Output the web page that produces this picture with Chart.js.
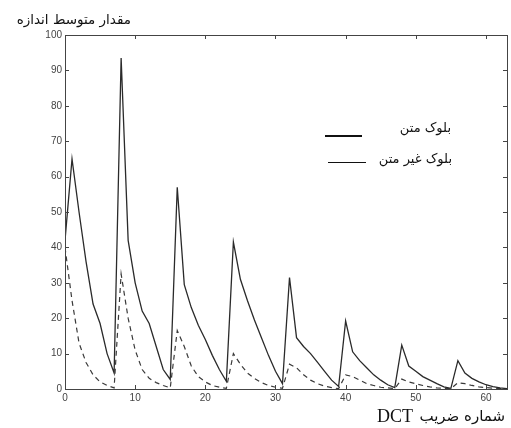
<!DOCTYPE html>
<html>
<head>
<meta charset="utf-8">
<script src="https://cdn.jsdelivr.net/npm/chart.js@4.4.0/dist/chart.umd.min.js"></script>
<style>
  html, body { margin: 0; padding: 0; background: #fff; }
  #wrap { width: 511px; height: 428px; position: relative; }
</style>
</head>
<body>
<div id="wrap"><canvas id="chart" width="511" height="428"></canvas></div>
<script>
// mean magnitude per DCT coefficient index (0..63)
var textBlock = [
    42, 65, 50, 36, 24, 18.5, 10, 4.5,
    93.5, 42, 30, 22, 18.5, 12, 5.5, 2.7,
    57, 29.5, 23, 18, 14, 9.5, 5.5, 2.2,
    41.5, 31, 25, 19.5, 14.5, 9.5, 5, 1.5,
    31.5, 14.5, 12, 10, 7.5, 5, 2.5, 0.7,
    19.2, 10.5, 8, 6, 4, 2.5, 1.2, 0.4,
    12.4, 6.5, 5, 3.5, 2.5, 1.5, 0.6, 0.2,
    8, 4.5, 3, 2, 1.2, 0.7, 0.3, 0.1
];
var nonTextBlock = [
    40, 25, 13, 7.5, 4, 2, 1, 0.3,
    32.5, 20, 11, 5.5, 3, 1.8, 1, 0.3,
    16.5, 12, 6.5, 3.5, 2, 1, 0.5, 0.2,
    10, 7, 4.5, 3, 1.8, 1, 0.5, 0.2,
    7, 6, 4, 2.5, 1.5, 0.8, 0.4, 0.1,
    4, 3.5, 2.5, 1.5, 1, 0.5, 0.3, 0.1,
    2.8, 2, 1.5, 1, 0.6, 0.3, 0.2, 0.1,
    1.8, 1.5, 1, 0.6, 0.4, 0.2, 0.1, 0
];
var xTicks = [0, 10, 20, 30, 40, 50, 60];
var yTicks = [0, 10, 20, 30, 40, 50, 60, 70, 80, 90, 100];
var seriesNames = ["بلوک متن", "بلوک غیر متن"];
var yTitle = "مقدار متوسط اندازه";
var xTitle = "شماره ضریب";
var xTitleLatin = "DCT";

var lineColor = '#2a2a2a';
var labelFont = "'DejaVu Sans', sans-serif";
var tickFont = "'Liberation Sans', Arial, sans-serif";

function toPoints(arr) {
    return arr.map(function (v, i) { return { x: i, y: v }; });
}

// frame with inward ticks, titles and legend
var decor = {
    id: 'decor',
    afterDraw: function (chart) {
        var ctx = chart.ctx,
            a = chart.chartArea,
            xs = chart.scales.x,
            ys = chart.scales.y;

        ctx.save();
        ctx.strokeStyle = '#444';
        ctx.lineWidth = 1;
        ctx.strokeRect(a.left + 0.5, a.top + 0.5, a.right - a.left, a.bottom - a.top);

        ctx.beginPath();
        xTicks.forEach(function (v) {
            var px = Math.round(xs.getPixelForValue(v)) + 0.5;
            ctx.moveTo(px, a.bottom); ctx.lineTo(px, a.bottom - 4);
            ctx.moveTo(px, a.top); ctx.lineTo(px, a.top + 4);
        });
        yTicks.forEach(function (v) {
            var py = Math.round(ys.getPixelForValue(v)) + 0.5;
            ctx.moveTo(a.left, py); ctx.lineTo(a.left + 4, py);
            ctx.moveTo(a.right, py); ctx.lineTo(a.right - 4, py);
        });
        ctx.stroke();

        // axis titles
        ctx.fillStyle = '#111';
        ctx.textBaseline = 'alphabetic';
        ctx.direction = 'rtl';
        ctx.textAlign = 'right';
        ctx.font = "13.5px " + labelFont;
        ctx.fillText(yTitle, 131, 24);
        ctx.font = "15px " + labelFont;
        ctx.fillText(xTitle, 505, 421);

        // legend
        ctx.font = "13px " + labelFont;
        ctx.fillText(seriesNames[0], 451, 132);
        ctx.fillText(seriesNames[1], 452, 163);

        ctx.direction = 'ltr';
        ctx.textAlign = 'left';
        ctx.font = "18px 'Liberation Serif', serif";
        ctx.fillText(xTitleLatin, 377, 422);

        ctx.strokeStyle = '#111';
        ctx.lineWidth = 2;
        ctx.beginPath();
        ctx.moveTo(325, 136); ctx.lineTo(362, 136);
        ctx.stroke();
        ctx.lineWidth = 1;
        ctx.beginPath();
        ctx.moveTo(328, 162.5); ctx.lineTo(366, 162.5);
        ctx.stroke();
        ctx.restore();
    }
};

var ctx = document.getElementById('chart').getContext('2d');

new Chart(ctx, {
    type: 'line',
    plugins: [decor],
    data: {
        datasets: [
            {
                label: seriesNames[0],
                data: toPoints(textBlock),
                borderColor: lineColor,
                borderWidth: 1.3,
                pointRadius: 0,
                tension: 0
            },
            {
                label: seriesNames[1],
                data: toPoints(nonTextBlock),
                borderColor: '#3a3a3a',
                borderWidth: 1.2,
                borderDash: [5, 4],
                pointRadius: 0,
                tension: 0
            }
        ]
    },
    options: {
        responsive: false,
        animation: false,
        layout: {
            padding: { left: 0, top: 35, right: 4, bottom: 0 }
        },
        scales: {
            x: {
                type: 'linear',
                min: 0,
                max: 63,
                afterBuildTicks: function (scale) {
                    scale.ticks = xTicks.map(function (v) { return { value: v }; });
                },
                afterFit: function (scale) { scale.height = 39; },
                grid: { display: false, drawTicks: false },
                border: { display: false },
                ticks: {
                    color: '#444',
                    padding: 3,
                    maxRotation: 0,
                    font: { family: tickFont, size: 10 }
                }
            },
            y: {
                min: 0,
                max: 100,
                afterBuildTicks: function (scale) {
                    scale.ticks = yTicks.map(function (v) { return { value: v }; });
                },
                afterFit: function (scale) { scale.width = 65; },
                grid: { display: false, drawTicks: false },
                border: { display: false },
                ticks: {
                    color: '#444',
                    padding: 3,
                    font: { family: tickFont, size: 10 }
                }
            }
        },
        plugins: {
            legend: { display: false },
            tooltip: { enabled: false }
        }
    }
});
</script>
</body>
</html>
